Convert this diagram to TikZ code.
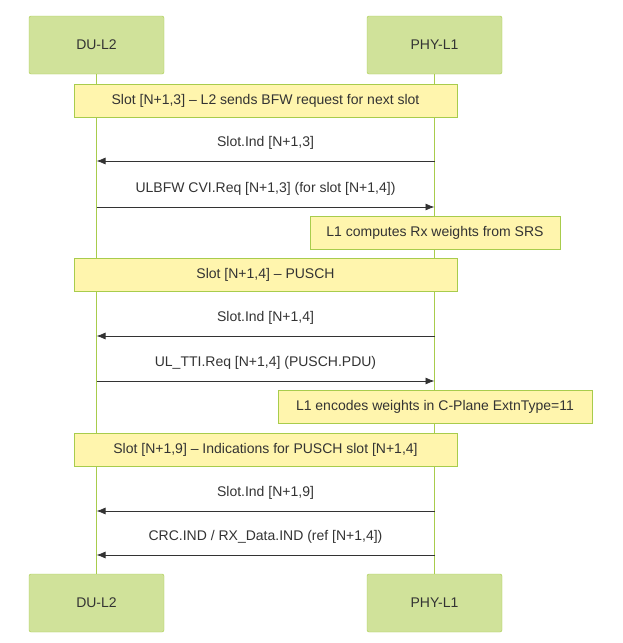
\documentclass[tikz,border=0pt]{standalone}
\usepackage{fontspec}
\setmainfont{Liberation Sans}
\usetikzlibrary{arrows.meta}
\definecolor{actfill}{HTML}{D0E29A}
\definecolor{actline}{HTML}{A8CC4C}
\definecolor{notefill}{HTML}{FFF5AD}
\definecolor{txt}{HTML}{333333}
\begin{document}
\begin{tikzpicture}[x=1pt,y=-1pt,
  every node/.style={font=\fontsize{14}{16}\selectfont, text=txt},
  actor/.style={draw=actline, fill=actfill, rounded corners=2pt, minimum width=135pt, minimum height=58pt, inner sep=0pt},
  note/.style={draw=actline, fill=notefill, minimum height=33pt, inner sep=0pt},
  life/.style={actline, line width=1pt},
  msg/.style={txt, line width=0.8pt, -{Latex[length=9pt,width=7pt]}},
  lbl/.style={inner sep=0pt}]
\useasboundingbox (0,0) rectangle (623,643);
\node[actor] (du) at (96.5,45) {DU-L2};
\node[actor] (phy) at (434.5,45) {PHY-L1};
\node[actor] (du2) at (96.5,603) {DU-L2};
\node[actor] (phy2) at (434.5,603) {PHY-L1};
\draw[life] (du) -- (du2);
\draw[life] (phy) -- (phy2);
\coordinate (dA) at (96.5,161); \coordinate (pA) at (434.5,161);
\coordinate (dB) at (96.5,207); \coordinate (pB) at (434.5,207);
\coordinate (dC) at (96.5,336); \coordinate (pC) at (434.5,336);
\coordinate (dD) at (96.5,381); \coordinate (pD) at (434.5,381);
\coordinate (dE) at (96.5,511); \coordinate (pE) at (434.5,511);
\coordinate (dF) at (96.5,555); \coordinate (pF) at (434.5,555);
\node[note, minimum width=383pt] (n1) at (265.5,100.5) {Slot [N+1,3] – L2 sends BFW request for next slot};
\node[note, minimum width=250pt] (n2) at (435,232.5) {L1 computes Rx weights from SRS};
\node[note, minimum width=383pt] (n3) at (265.5,274.5) {Slot [N+1,4] – PUSCH};
\node[note, minimum width=314pt] (n4) at (435,406.5) {L1 encodes weights in C-Plane ExtnType=11};
\node[note, minimum width=383pt] (n5) at (265.5,449.5) {Slot [N+1,9] – Indications for PUSCH slot [N+1,4]};
\draw[msg] (pA) -- node[lbl, above=11pt] (m1) {Slot.Ind [N+1,3]} (dA);
\draw[msg] (dB) -- node[lbl, above=11pt] (m2) {ULBFW CVI.Req [N+1,3] (for slot [N+1,4])} (pB);
\draw[msg] (pC) -- node[lbl, above=11pt] (m3) {Slot.Ind [N+1,4]} (dC);
\draw[msg] (dD) -- node[lbl, above=11pt] (m4) {UL\_TTI.Req [N+1,4] (PUSCH.PDU)} (pD);
\draw[msg] (pE) -- node[lbl, above=11pt] (m5) {Slot.Ind [N+1,9]} (dE);
\draw[msg] (pF) -- node[lbl, above=11pt] (m6) {CRC.IND / RX\_Data.IND (ref [N+1,4])} (dF);
\end{tikzpicture}
\end{document}
